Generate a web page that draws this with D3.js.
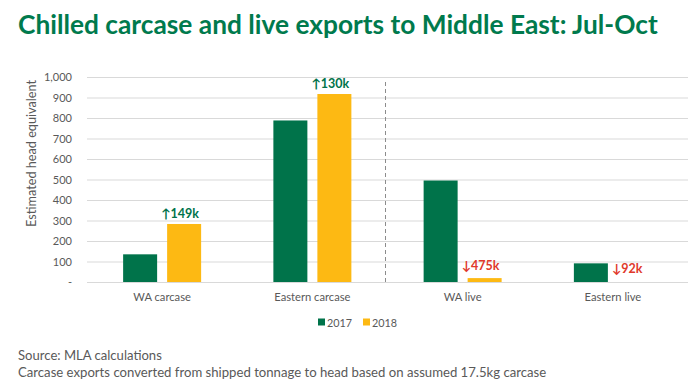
<!DOCTYPE html>
<html><head><meta charset="utf-8">
<script src="https://cdn.jsdelivr.net/npm/d3@7"></script>
<style>body{margin:0;background:#fff}svg{display:block}</style>
</head><body>
<svg id="c" width="700" height="390"></svg>
<script>
const categories = ["WA carcase", "Eastern carcase", "WA live", "Eastern live"];
const seriesNames = ["2017", "2018"];
const values2017 = [135, 788, 495, 91];
const values2018 = [283, 917, 19, 0];
const annotations = ["↑149k", "↑130k", "↓475k", "↓92k"];
const annotationUp = [true, true, false, false];
const yTicks = [0, 100, 200, 300, 400, 500, 600, 700, 800, 900, 1000];

const colors = ["#00734A", "#FDB913"];
const green = "#00734A", red = "#E0392B", gray = "#595959";
const font = "Lato, 'Open Sans', sans-serif";

const svg = d3.select("#c");
const m = {l: 87, r: 688, t: 77, b: 282};

function fit(sel, base, target) {
  sel.attr("font-size", base);
  const w = sel.node().getComputedTextLength();
  sel.attr("font-size", base * target / w);
  return sel;
}

const x = d3.scaleBand().domain(categories).range([m.l, m.r]);
const y = d3.scaleLinear().domain([0, 1000]).range([m.b, m.t]);
const barW = 34, gap = 10;
const xs = d3.scaleOrdinal().domain(seriesNames).range([-(barW + gap / 2), gap / 2]);

// title
const title = svg.append("text").attr("x", 18).attr("y", 34)
  .attr("font-family", font).attr("font-weight", 700)
  .attr("fill", "#007A4D").text("Chilled carcase and live exports to Middle East: Jul-Oct");
fit(title, 24, 640);

// gridlines
svg.append("g").selectAll("line").data(yTicks).join("line")
  .attr("x1", m.l).attr("x2", m.r).attr("y1", d => y(d) + 0.5).attr("y2", d => y(d) + 0.5)
  .attr("stroke", "#D9D9D9").attr("stroke-width", 1);

// y axis labels
const yAxis = d3.axisLeft(y).tickValues(yTicks).tickSize(0).tickPadding(15)
  .tickFormat(d => d === 0 ? "-" : d3.format(",")(d));
const ya = svg.append("g").attr("transform", `translate(${m.l},0)`).call(yAxis);
ya.select(".domain").remove();
ya.selectAll("text").attr("font-family", font).attr("font-size", 11).attr("fill", gray);

// y title
const yt = svg.append("text").attr("transform", "translate(36,153.5) rotate(-90)")
  .attr("text-anchor", "middle").attr("font-family", font)
  .attr("fill", gray).text("Estimated head equivalent");
fit(yt, 12, 147);

// divider
svg.append("line").attr("x1", 385.5).attr("x2", 385.5).attr("y1", 82).attr("y2", m.b)
  .attr("stroke", "#8C8C8C").attr("stroke-width", 1).attr("stroke-dasharray", "4,3");

// bars
const data = [];
categories.forEach((c, i) => {
  data.push({c, s: "2017", v: values2017[i]});
  data.push({c, s: "2018", v: values2018[i]});
});
svg.append("g").selectAll("rect").data(data.filter(d => d.v > 0)).join("rect")
  .attr("x", d => x(d.c) + x.bandwidth() / 2 + xs(d.s))
  .attr("y", d => y(d.v)).attr("width", barW).attr("height", d => y(0) - y(d.v))
  .attr("fill", d => colors[seriesNames.indexOf(d.s)]);

// x labels
const xAxis = d3.axisBottom(x).tickSize(0).tickPadding(11);
const xa = svg.append("g").attr("transform", `translate(0,${m.b})`).call(xAxis);
xa.select(".domain").remove();
xa.selectAll("text").attr("font-family", font).attr("font-size", 11.2).attr("fill", gray);

// annotations
svg.append("g").selectAll("text").data(categories).join("text")
  .attr("x", c => x(c) + x.bandwidth() / 2 - 1)
  .attr("y", (c, i) => annotationUp[i] ? y(values2018[i]) - 6 : y(values2017[i] > 200 ? 60 : 45))
  .attr("text-anchor", "start").attr("font-family", font).attr("font-weight", 700)
  .attr("font-size", 12.5).attr("fill", (c, i) => annotationUp[i] ? green : red)
  .text((c, i) => annotations[i]);

// legend
const lg = svg.append("g").attr("transform", "translate(318,322)");
seriesNames.forEach((s, i) => {
  const g = lg.append("g").attr("transform", `translate(${i * 45},0)`);
  g.append("rect").attr("x", 0).attr("y", -3.5).attr("width", 7).attr("height", 7).attr("fill", colors[i]);
  const t = g.append("text").attr("x", 9).attr("y", 4.5).attr("font-family", font)
    .attr("fill", gray).text(s);
  fit(t, 12, 25);
});

// footnotes
fit(svg.append("text").attr("x", 18).attr("y", 360).attr("font-family", font)
  .attr("fill", gray).text("Source: MLA calculations"), 12, 144);
fit(svg.append("text").attr("x", 18).attr("y", 377).attr("font-family", font)
  .attr("fill", gray).text("Carcase exports converted from shipped tonnage to head based on assumed 17.5kg carcase"), 12, 529);
</script>
</body></html>
